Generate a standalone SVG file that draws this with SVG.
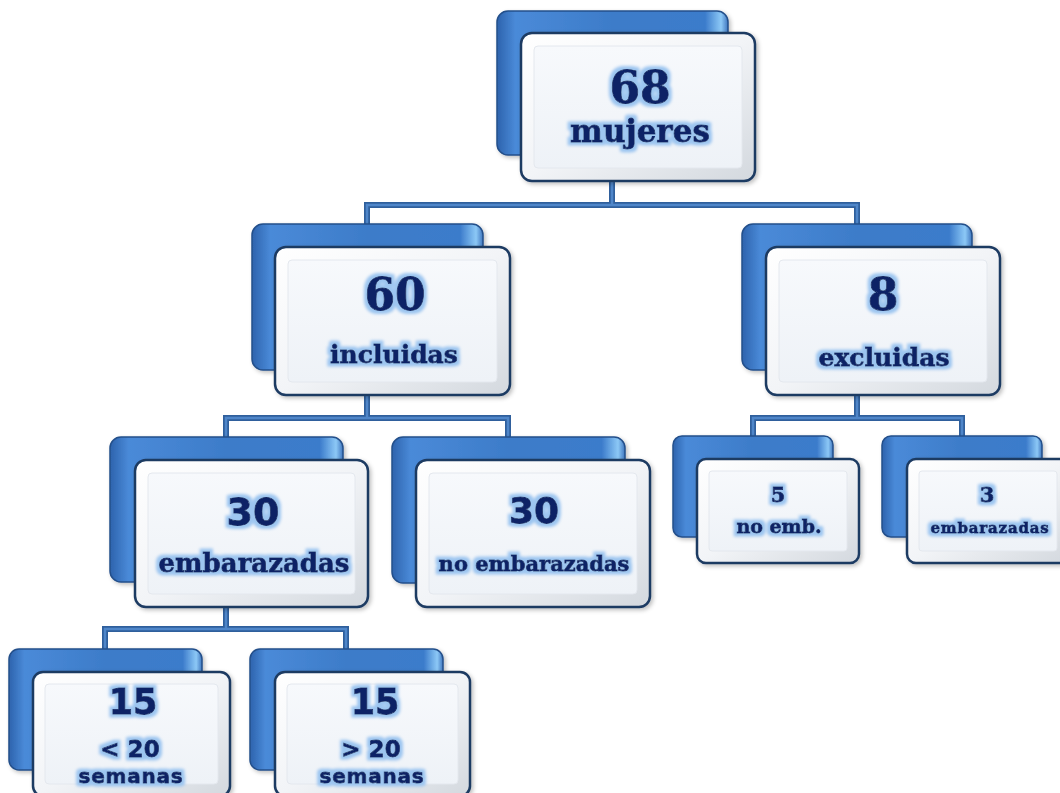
<svg xmlns="http://www.w3.org/2000/svg" width="1060" height="793" viewBox="0 0 1060 793">
<defs>
<linearGradient id="gBack" x1="0" y1="0" x2="1" y2="0">
<stop offset="0" stop-color="#2d63ad"/>
<stop offset="0.08" stop-color="#4a8ad8"/>
<stop offset="0.5" stop-color="#3d7cc9"/>
<stop offset="0.9" stop-color="#3b7bcb"/>
<stop offset="0.97" stop-color="#8cc8f6"/>
<stop offset="1" stop-color="#3f76bf"/>
</linearGradient>
<linearGradient id="gFront" x1="0" y1="0" x2="1" y2="1">
<stop offset="0" stop-color="#ffffff"/>
<stop offset="0.5" stop-color="#f2f4f7"/>
<stop offset="1" stop-color="#d3d8de"/>
</linearGradient>
<linearGradient id="gInner" x1="0" y1="0" x2="0" y2="1">
<stop offset="0" stop-color="#f7f9fc"/>
<stop offset="1" stop-color="#eef2f7"/>
</linearGradient>
<filter id="glow" x="-20%" y="-30%" width="140%" height="160%">
<feMorphology in="SourceAlpha" operator="dilate" radius="2.5" result="d"/>
<feGaussianBlur in="d" stdDeviation="1.5" result="b"/>
<feFlood flood-color="#9cc5f0"/>
<feComposite in2="b" operator="in" result="g"/>
<feMerge><feMergeNode in="g"/><feMergeNode in="SourceGraphic"/></feMerge>
</filter>
<filter id="sh" x="-10%" y="-10%" width="130%" height="130%">
<feGaussianBlur in="SourceAlpha" stdDeviation="2"/>
<feOffset dx="2" dy="2" result="o"/>
<feFlood flood-color="#000" flood-opacity="0.25"/>
<feComposite in2="o" operator="in"/>
<feMerge><feMergeNode/><feMergeNode in="SourceGraphic"/></feMerge>
</filter>
</defs>
<style>
.back{fill:url(#gBack);stroke:#244f8a;stroke-width:1.5}
.front{fill:url(#gFront);stroke:#1d3a62;stroke-width:2.5}
.inner{fill:url(#gInner);stroke:#e4e8ee;stroke-width:1}
.t{font-family:"DejaVu Serif",serif;font-weight:bold;fill:#0b2466;stroke:#0b2466;stroke-width:0.8;text-anchor:middle;filter:url(#glow)}
.n{font-family:"DejaVu Sans",sans-serif;font-weight:bold;fill:#0b2466;stroke:#0b2466;stroke-width:0.8;text-anchor:middle;filter:url(#glow)}
.c{fill:none;stroke:#2f5f9c;stroke-width:6}
.ci{fill:none;stroke:#4f86c9;stroke-width:2.5}
</style>
<g id="connectors">
<path class="c" d="M612 180V205M367 224V205H857V224M367 395V418M226 437V418H508V437M857 395V418M753 436V418H962V436M226 607V629M105 649V629H346V649"/>
<path class="ci" d="M612 180V205M367 224V205H857V224M367 395V418M226 437V418H508V437M857 395V418M753 436V418H962V436M226 607V629M105 649V629H346V649"/>
</g>
<g id="n68">
<rect class="back" x="497" y="11" width="231" height="144" rx="11" filter="url(#sh)"/>
<rect class="front" x="521" y="33" width="234" height="148" rx="11" filter="url(#sh)"/>
<rect class="inner" x="534" y="46" width="208" height="122" rx="4"/>
<text class="t" x="640" y="103" font-size="44">68</text>
<text class="t" x="640" y="142" font-size="31">mujeres</text>
</g>
<g id="n60">
<rect class="back" x="252" y="224" width="231" height="146" rx="11" filter="url(#sh)"/>
<rect class="front" x="275" y="247" width="235" height="148" rx="11" filter="url(#sh)"/>
<rect class="inner" x="288" y="260" width="209" height="122" rx="4"/>
<text class="t" x="395" y="310" font-size="44">60</text>
<text class="t" x="394" y="363" font-size="25">incluidas</text>
</g>
<g id="n8">
<rect class="back" x="742" y="224" width="230" height="146" rx="11" filter="url(#sh)"/>
<rect class="front" x="766" y="247" width="234" height="148" rx="11" filter="url(#sh)"/>
<rect class="inner" x="779" y="260" width="208" height="122" rx="4"/>
<text class="t" x="883" y="310" font-size="44">8</text>
<text class="t" x="884" y="366" font-size="25">excluidas</text>
</g>
<g id="n30a">
<rect class="back" x="110" y="437" width="233" height="145" rx="11" filter="url(#sh)"/>
<rect class="front" x="135" y="460" width="233" height="147" rx="11" filter="url(#sh)"/>
<rect class="inner" x="148" y="473" width="207" height="121" rx="4"/>
<text class="n" x="253" y="525" font-size="38">30</text>
<text class="t" x="254" y="572" font-size="26">embarazadas</text>
</g>
<g id="n30b">
<rect class="back" x="392" y="437" width="233" height="146" rx="11" filter="url(#sh)"/>
<rect class="front" x="416" y="460" width="234" height="147" rx="11" filter="url(#sh)"/>
<rect class="inner" x="429" y="473" width="208" height="121" rx="4"/>
<text class="n" x="534" y="523" font-size="36">30</text>
<text class="t" x="534" y="571" font-size="21" font-weight="normal" stroke-width="0.5">no embarazadas</text>
</g>
<g id="n5">
<rect class="back" x="673" y="436" width="160" height="101" rx="9" filter="url(#sh)"/>
<rect class="front" x="697" y="459" width="162" height="104" rx="9" filter="url(#sh)"/>
<rect class="inner" x="709" y="471" width="138" height="80" rx="3"/>
<text class="t" x="778" y="502" font-size="21">5</text>
<text class="t" x="779" y="533" font-size="19">no emb.</text>
</g>
<g id="n3">
<rect class="back" x="882" y="436" width="160" height="101" rx="9" filter="url(#sh)"/>
<rect class="front" x="907" y="459" width="162" height="104" rx="9" filter="url(#sh)"/>
<rect class="inner" x="919" y="471" width="138" height="80" rx="3"/>
<text class="t" x="987" y="502" font-size="21">3</text>
<text class="t" x="990" y="533" font-size="15" letter-spacing="0.8">embarazadas</text>
</g>
<g id="n15a">
<rect class="back" x="9" y="649" width="193" height="121" rx="10" filter="url(#sh)"/>
<rect class="front" x="33" y="672" width="197" height="124" rx="10" filter="url(#sh)"/>
<rect class="inner" x="45" y="684" width="173" height="100" rx="4"/>
<text class="n" x="133" y="714" font-size="35">15</text>
<text class="n" x="130" y="757" font-size="23">&lt; 20</text>
<text class="n" x="131" y="783" font-size="20" letter-spacing="0.8">semanas</text>
</g>
<g id="n15b">
<rect class="back" x="250" y="649" width="193" height="121" rx="10" filter="url(#sh)"/>
<rect class="front" x="275" y="672" width="195" height="124" rx="10" filter="url(#sh)"/>
<rect class="inner" x="287" y="684" width="171" height="100" rx="4"/>
<text class="n" x="375" y="714" font-size="35">15</text>
<text class="n" x="371" y="757" font-size="23">&gt; 20</text>
<text class="n" x="372" y="783" font-size="20" letter-spacing="0.8">semanas</text>
</g>
</svg>
